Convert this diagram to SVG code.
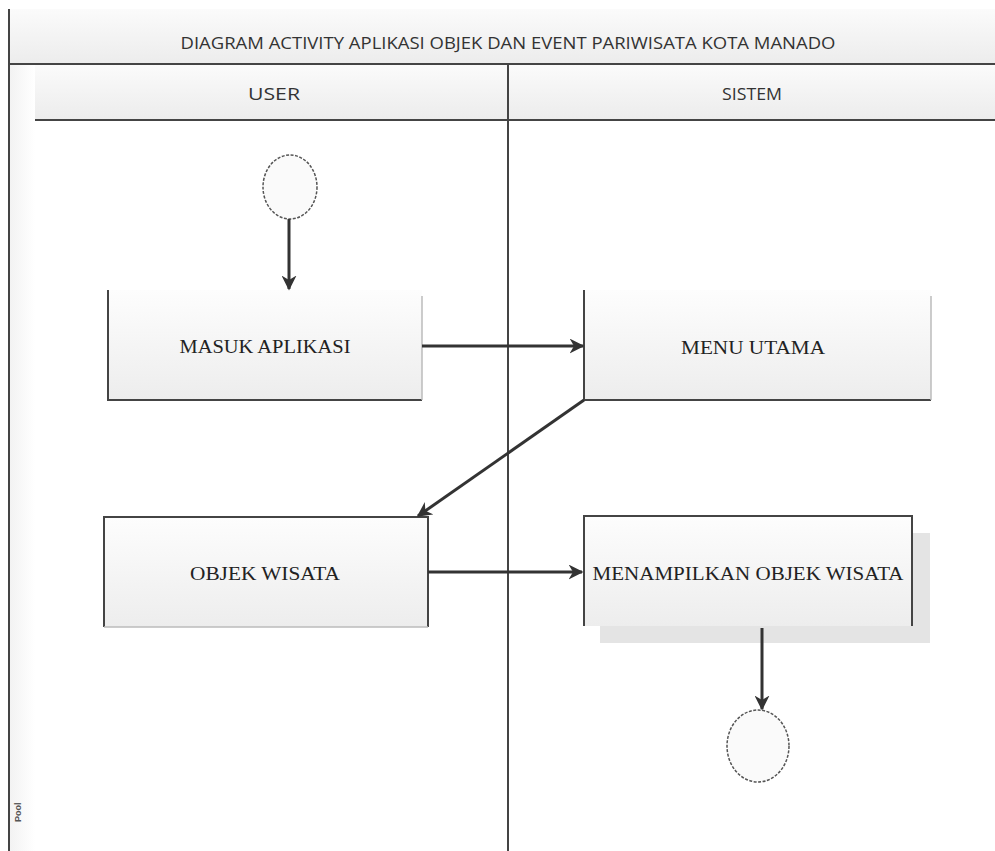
<svg xmlns="http://www.w3.org/2000/svg" width="995" height="851" viewBox="0 0 995 851">
<defs>
<linearGradient id="hdr" x1="0" y1="0" x2="0" y2="1">
<stop offset="0" stop-color="#fbfbfb"/><stop offset="1" stop-color="#ececec"/>
</linearGradient>
<linearGradient id="box" x1="0" y1="0" x2="0" y2="1">
<stop offset="0" stop-color="#fdfdfd"/><stop offset="1" stop-color="#ededed"/>
</linearGradient>
<linearGradient id="side" x1="0" y1="0" x2="1" y2="0">
<stop offset="0" stop-color="#f2f2f2"/><stop offset="1" stop-color="#ffffff"/>
</linearGradient>
<marker id="arr" viewBox="0 0 10 10" refX="9" refY="5" markerWidth="5" markerHeight="5" orient="auto" markerUnits="strokeWidth">
<path d="M0,0 L10,5 L0,10 L3,5 Z" fill="#333"/>
</marker>
<style>
.ln{stroke:#444;stroke-width:2;fill:none}
.lnf{stroke:#bbb;stroke-width:1.5;fill:none}
.hd{font-family:"Open Sans","Liberation Sans",sans-serif;font-size:17px;fill:#333;text-anchor:middle}
.lb{font-family:"Liberation Serif","Times New Roman",serif;font-size:19px;fill:#222;text-anchor:middle}
.cn{stroke:#333;stroke-width:3;fill:none;marker-end:url(#arr)}
.circ{fill:#fafafa;stroke:#555;stroke-width:1.5;stroke-dasharray:3 1.5}
</style>
</defs>
<rect width="995" height="851" fill="#fff"/>
<g id="pool">
<rect x="9" y="9" width="986" height="55" fill="url(#hdr)"/>
<rect x="9" y="64" width="26" height="787" fill="url(#side)"/>
<rect x="35" y="64" width="960" height="56" fill="url(#hdr)"/>
<line x1="9" y1="9" x2="9" y2="851" class="ln"/>
<line x1="9" y1="64" x2="995" y2="64" class="ln"/>
<line x1="35" y1="120" x2="995" y2="120" class="ln"/>
<line x1="508" y1="64" x2="508" y2="851" class="ln"/>
<text x="508" y="49" class="hd" textLength="655" lengthAdjust="spacingAndGlyphs">DIAGRAM ACTIVITY APLIKASI OBJEK DAN EVENT PARIWISATA KOTA MANADO</text>
<text x="274" y="100" class="hd" textLength="52" lengthAdjust="spacingAndGlyphs">USER</text>
<text x="752" y="100" class="hd" textLength="60" lengthAdjust="spacingAndGlyphs">SISTEM</text>
<text transform="translate(21,822) rotate(-90)" font-family="Liberation Sans,sans-serif" font-size="9" font-weight="bold" fill="#555">Pool</text>
</g>
<g id="start">
<ellipse cx="290" cy="187" rx="27" ry="32" class="circ"/>
</g>
<g id="masuk">
<rect x="108" y="290" width="314" height="110" fill="url(#box)"/>
<path d="M108,290 V400 H422" class="ln"/>
<line x1="422" y1="296" x2="422" y2="400" class="lnf"/>
<text x="265" y="353" class="lb" textLength="171" lengthAdjust="spacingAndGlyphs">MASUK APLIKASI</text>
</g>
<g id="menu">
<rect x="584" y="290" width="347" height="110" fill="url(#box)"/>
<path d="M584,290 V400 H931" class="ln"/>
<line x1="931" y1="296" x2="931" y2="400" class="lnf"/>
<text x="753" y="354" class="lb" textLength="144" lengthAdjust="spacingAndGlyphs">MENU UTAMA</text>
</g>
<g id="objek">
<rect x="104" y="517" width="324" height="110" fill="url(#box)"/>
<path d="M104,627 V517 H428 V627" class="ln"/>
<line x1="104" y1="627" x2="428" y2="627" class="lnf"/>
<text x="265" y="580" class="lb" textLength="150" lengthAdjust="spacingAndGlyphs">OBJEK WISATA</text>
</g>
<g id="menampilkan">
<rect x="600" y="533" width="330" height="110" fill="#e4e4e4"/>
<rect x="584" y="516" width="328" height="110" fill="url(#box)"/>
<path d="M584,626 V516 H912 V626" class="ln"/>
<text x="748" y="580" class="lb" textLength="311" lengthAdjust="spacingAndGlyphs">MENAMPILKAN OBJEK WISATA</text>
</g>
<g id="end">
<ellipse cx="758" cy="746" rx="31" ry="36" class="circ"/>
</g>
<g id="connectors">
<line x1="289" y1="219" x2="289" y2="289" class="cn"/>
<line x1="422" y1="346" x2="583" y2="346" class="cn"/>
<line x1="584" y1="400" x2="418" y2="516" class="cn"/>
<line x1="428" y1="572" x2="582" y2="572" class="cn"/>
<line x1="762" y1="628" x2="762" y2="709" class="cn"/>
</g>
</svg>
